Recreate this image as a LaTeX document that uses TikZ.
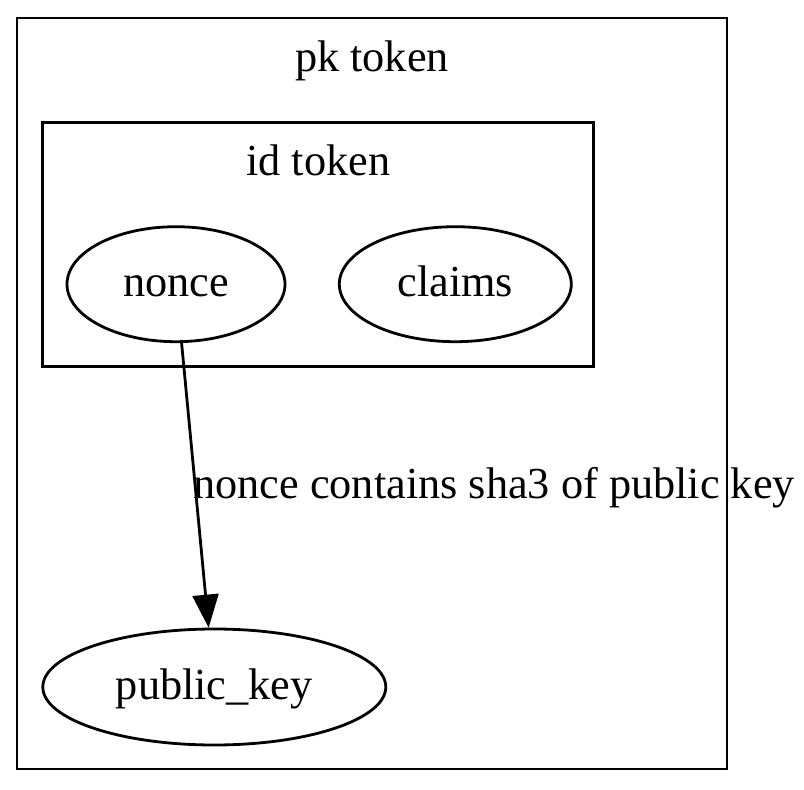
\documentclass[tikz,border=0pt]{standalone}
\usepackage{fontspec}
\setmainfont{Liberation Serif}
\usetikzlibrary{shapes.geometric,arrows.meta}
\begin{document}
\begin{tikzpicture}[x=1pt,y=-1pt,
  every node/.style={font=\fontsize{44.3}{52}\selectfont},
  cluster/.style={draw,line width=2.8pt,rectangle,inner sep=0pt},
  oval/.style={draw,line width=2.8pt,ellipse,inner sep=0pt,text height=33pt,text depth=9pt},
  edgeline/.style={line width=2.8pt,-{Triangle[length=33pt,width=26pt]}}]
\useasboundingbox (0,0) rectangle (804,790);
\fill[white] (0,0) rectangle (804,790);
\node[cluster,minimum width=710pt,minimum height=751pt] (pkbox) at (372,393.5) {};
\node[anchor=base] (pktitle) at (372,71) {pk token};
\node[cluster,minimum width=551pt,minimum height=244pt] (idbox) at (318.3,244.7) {};
\node[anchor=base] (idtitle) at (318.3,175) {id token};
\node[oval,minimum width=218pt,minimum height=115pt] (nonce) at (176,284.2) {nonce};
\node[oval,minimum width=232pt,minimum height=115pt] (claims) at (455.3,284.2) {claims};
\node[oval,minimum width=343pt,minimum height=116pt] (pubkey) at (214.3,687) {public\_key};
\draw[edgeline] (nonce) -- (pubkey);
\node[anchor=base west,inner sep=0pt] (elabel) at (193,498) {nonce contains sha3 of public key};
\end{tikzpicture}
\end{document}
